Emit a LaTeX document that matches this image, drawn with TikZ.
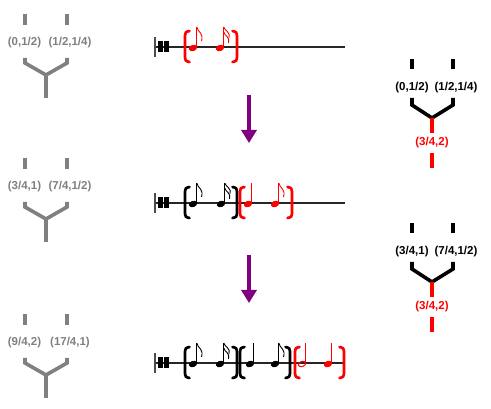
\documentclass[tikz,border=0pt]{standalone}
\usepackage{fontspec}
\setmainfont{Liberation Sans}
\usetikzlibrary{arrows.meta}
\definecolor{treegray}{RGB}{128,128,128}
\definecolor{arrowpurple}{RGB}{128,0,128}

\begin{document}
\begin{tikzpicture}[
                x=1pt, y=-1pt,
                every node/.style={font=\fontsize{11.5}{13}\selectfont\bfseries, inner sep=0pt},
                branch/.style={line width=3.6pt},
                staffline/.style={line width=1.3pt, draw=black!85},
                bracket/.style={line width=2.7pt, line cap=round},
                arrow/.style={-{Triangle[length=13pt, width=15pt]}, line width=3.2pt, draw=arrowpurple},
                lbrack/.pic={\draw[bracket] (4.5,-16) .. controls (0.5,-15) .. (0,-11) -- (0,10) .. controls (0.5,14) .. (4.5,15);},
                rbrack/.pic={\draw[bracket] (-4.5,-16) .. controls (-0.5,-15) .. (0,-11) -- (0,10) .. controls (-0.5,14) .. (-4.5,15);},
                head/.pic={\fill[rotate=20] (0,0) ellipse[x radius=4.3, y radius=3.1];
                           \draw[line width=0.9pt] (3.8,-0.5) -- (3.8,-21);},
                openhead/.pic={\draw[line width=1pt, rotate=20] (0,0) ellipse[x radius=3.8, y radius=2.6];
                               \draw[line width=0.9pt] (3.9,-0.5) -- (3.9,-21);},
                flag/.pic={\draw[line width=0.9pt] (3.8,-21) .. controls (4.5,-16) and (11,-15) .. (8.5,-7);},
                flagg/.pic={\draw[line width=0.9pt] (3.8,-21) .. controls (4.5,-17) and (11,-16) .. (9,-10);
                            \draw[line width=0.9pt] (3.8,-16) .. controls (4.5,-12) and (10.5,-11) .. (8.5,-5);},
                barstart/.pic={\draw[line width=1.1pt, draw=black!70] (0,-10) -- (0,10);
                               \fill (3,-6) rectangle (7.6,5.5);
                               \fill (8.8,-6) rectangle (14,5.5);},
            ]
            \useasboundingbox (0,0) rectangle (491,409);

            % Left trees
            \foreach \ly/\la/\lb/\nm in {43/{(0,1/2)}/{(1/2,1/4)}/one, 187/{(3/4,1)}/{(7/4,1/2)}/two, 343/{(9/4,2)}/{(17/4,1)}/three} {
                \begin{scope}[treegray]
                \node[text=treegray] (left-\nm-a) at (24.5,\ly) {\la};
                \node[text=treegray] (left-\nm-b) at (70,\ly) {\lb};
                \draw[branch] (25,\ly-29) -- (25,\ly-18);
                \draw[branch] (67,\ly-29) -- (67,\ly-18);
                \draw[branch] (25,\ly+15) -- (25,\ly+20) -- (46,\ly+32) -- (67,\ly+20) -- (67,\ly+15);
                \draw[branch] (46,\ly+32) -- (46,\ly+55);
                \end{scope}
            }

            % Right trees
            \foreach \ly/\la/\lb/\nm in {88/{(0,1/2)}/{(1/2,1/4)}/one, 252/{(3/4,1)}/{(7/4,1/2)}/two} {
                \node (right-\nm-a) at (412,\ly) {\la};
                \node (right-\nm-b) at (456,\ly) {\lb};
                \node[text=red] (right-\nm-c) at (432,\ly+55) {(3/4,2)};
                \draw[branch] (412,\ly-29) -- (412,\ly-19);
                \draw[branch] (453,\ly-29) -- (453,\ly-19);
                \draw[branch] (412,\ly+10) -- (412,\ly+17) -- (432,\ly+30) -- (453,\ly+17) -- (453,\ly+10);
                \draw[branch, red] (432,\ly+30) -- (432,\ly+45);
                \draw[branch, red] (432,\ly+65) -- (432,\ly+80);
            }

            % Staff 1
            \draw[staffline] (155,47) -- (345,47);
            \pic at (155,47) {barstart};
            \begin{scope}[red]
            \pic at (185,47) {lbrack};
            \pic at (193,48) {head}; \pic at (193,48) {flag};
            \pic at (220,48) {head}; \pic at (220,48) {flagg};
            \pic at (237,47) {rbrack};
            \end{scope}

            % Staff 2
            \draw[staffline] (155,203) -- (345,203);
            \pic at (155,203) {barstart};
            \pic at (185,203) {lbrack};
            \pic at (193,204) {head}; \pic at (193,204) {flag};
            \pic at (221,204) {head}; \pic at (221,204) {flagg};
            \pic at (237,203) {rbrack};
            \begin{scope}[red]
            \pic at (240,203) {lbrack};
            \pic at (248,204) {head};
            \pic at (275,204) {head}; \pic at (275,204) {flag};
            \pic at (292,203) {rbrack};
            \end{scope}

            % Staff 3
            \draw[staffline] (155,363) -- (345,363);
            \pic at (155,363) {barstart};
            \pic at (185,363) {lbrack};
            \pic at (193,364) {head}; \pic at (193,364) {flag};
            \pic at (220,364) {head}; \pic at (220,364) {flagg};
            \pic at (237,363) {rbrack};
            \pic at (240,363) {lbrack};
            \pic at (250,364) {head};
            \pic at (275,364) {head}; \pic at (275,364) {flag};
            \pic at (290,363) {rbrack};
            \begin{scope}[red]
            \pic at (295,363) {lbrack};
            \pic at (302,364) {openhead};
            \pic at (328,364) {head};
            \pic at (344,363) {rbrack};
            \end{scope}

            % Arrows
            \coordinate (step-one-top) at (249,95);
            \coordinate (step-one-bot) at (249,143);
            \coordinate (step-two-top) at (249,255);
            \coordinate (step-two-bot) at (249,303);
            \draw[arrow] (step-one-top) -- (step-one-bot);
            \draw[arrow] (step-two-top) -- (step-two-bot);

            \end{tikzpicture}
\end{document}
